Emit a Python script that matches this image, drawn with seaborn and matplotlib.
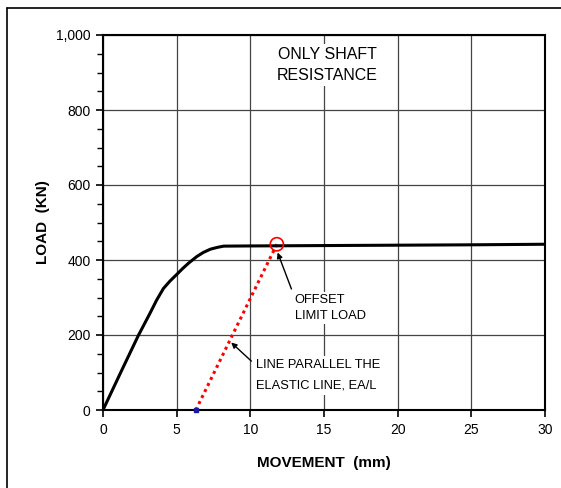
import matplotlib
matplotlib.use("Agg")
import matplotlib.pyplot as plt
import seaborn as sns
import pandas as pd
from matplotlib.ticker import MultipleLocator, FuncFormatter
from matplotlib.lines import Line2D

# ---- data ----
movement = [0, 1.2, 2.39, 3.19, 3.64, 4.1, 4.55, 5.07, 5.4, 5.79, 6.36, 6.8, 7.3, 7.8, 8.2,
            10, 15, 20, 25, 30]
load = [0, 100, 198, 258, 293, 324, 344, 364, 377, 391, 409, 420, 429, 434, 437,
        437.5, 438.5, 439.5, 440.5, 442]

offset_x = [6.3, 11.8]
offset_y = [0, 442]

limit_x = [11.8]
limit_y = [442]

x_ticks = [0, 5, 10, 15, 20, 25, 30]
y_ticks = [0, 200, 400, 600, 800, 1000]

sns.set_theme(style="white")
plt.rcParams['font.family'] = ['Liberation Sans', 'DejaVu Sans']
plt.rcParams['text.color'] = 'black'
plt.rcParams['axes.labelcolor'] = 'black'

fig = plt.figure(figsize=(5.61, 4.88), dpi=100)
ax = fig.add_axes([103/561, 1-410/488, (545-103)/561, (410-35)/488])

curve = pd.DataFrame({"x": movement, "y": load})
off = pd.DataFrame({"x": offset_x, "y": offset_y})
lim = pd.DataFrame({"x": limit_x, "y": limit_y})

sns.lineplot(data=curve, x="x", y="y", ax=ax, color="black", lw=2.2, zorder=4)
sns.lineplot(data=off, x="x", y="y", ax=ax, color="red", lw=2.2,
             linestyle=(0, (1, 1.2)), zorder=3)
ax.plot([offset_x[0]], [offset_y[0]], marker="s", ms=2.5, color="#1a1aa0", zorder=5, clip_on=False)
sns.scatterplot(data=lim, x="x", y="y", ax=ax, s=90, facecolor="none",
                edgecolor="red", linewidth=1.2, zorder=6)

ax.set_xlim(0, 30)
ax.set_ylim(0, 1000)
ax.set_xticks(x_ticks)
ax.set_yticks(y_ticks)
ax.yaxis.set_minor_locator(MultipleLocator(50))
ax.yaxis.set_major_formatter(FuncFormatter(lambda v, p: f"{int(v):,}"))
ax.tick_params(axis="both", which="major", direction="out", length=5, width=1.2,
               color="black", labelsize=10, pad=4, labelcolor="black")
ax.tick_params(axis="y", which="minor", direction="out", length=4, width=1.0,
               color="black", left=True)
ax.tick_params(axis="x", bottom=True)
ax.tick_params(axis="y", left=True)

ax.grid(True, which="major", color="#444444", lw=0.9)
ax.set_axisbelow(True)
for s in ax.spines.values():
    s.set_color("black")
    s.set_linewidth(1.5)

ax.set_xlabel("MOVEMENT  (mm)", fontsize=11, fontweight="bold", labelpad=14)
ax.set_ylabel("LOAD  (KN)", fontsize=11, fontweight="bold", labelpad=4)

box = dict(facecolor="white", edgecolor="none", pad=2)
ax.text(15.2, 920, "ONLY SHAFT\nRESISTANCE", ha="center", va="center",
        fontsize=11.5, linespacing=1.55, color="black", bbox=box, zorder=2)

ax.annotate("OFFSET\nLIMIT LOAD", xy=(11.85, 420), xytext=(13.0, 272),
            ha="left", va="center", fontsize=9.3, linespacing=1.35,
            color="black", bbox=box, zorder=2,
            arrowprops=dict(arrowstyle="-|>", color="black", lw=1,
                            mutation_scale=8, shrinkA=2, shrinkB=0,
                            relpos=(0, 0.9)))
ax.annotate("LINE PARALLEL THE\nELASTIC LINE, EA/L", xy=(8.7, 180), xytext=(10.4, 92),
            ha="left", va="center", fontsize=9.3, linespacing=2.0,
            color="black", bbox=box, zorder=2,
            arrowprops=dict(arrowstyle="-|>", color="black", lw=1,
                            mutation_scale=8, shrinkA=2, shrinkB=0,
                            relpos=(0, 0.8)))

# figure frame (left and top edges visible)
fig.add_artist(Line2D([7/561, 7/561], [0, 1-8/488], color="black", lw=1.2,
                      transform=fig.transFigure))
fig.add_artist(Line2D([7/561, 1], [1-8/488, 1-8/488], color="black", lw=1.2,
                      transform=fig.transFigure))

fig.savefig("out.png", dpi=100)
